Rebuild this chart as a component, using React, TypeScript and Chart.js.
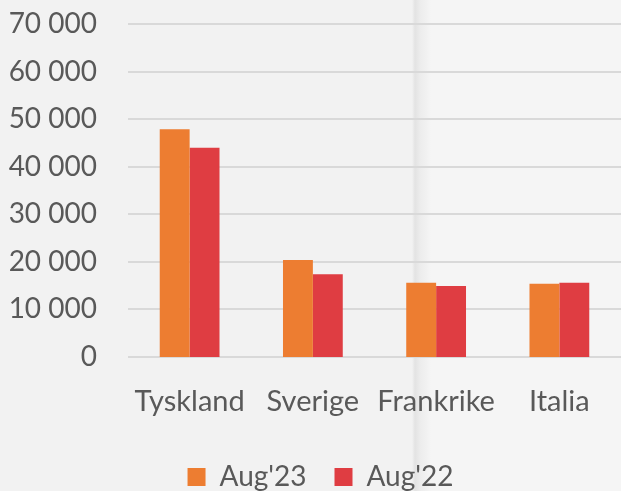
import React, { useEffect, useRef } from "react";
import { Chart, registerables } from "chart.js";

Chart.register(...registerables);

const categories = ["Tyskland", "Sverige", "Frankrike", "Italia"];
const seriesNames = ["Aug'23", "Aug'22"];
const aug23 = [47900, 20400, 15600, 15400];
const aug22 = [44000, 17400, 14900, 15600];
const yTicks = [0, 10000, 20000, 30000, 40000, 50000, 60000, 70000];

const formatTick = (v: number) =>
  String(v).replace(/\B(?=(\d{3})+(?!\d))/g, " ");

const gridPlugin = {
  id: "customGrid",
  afterLayout(chart: any) {
    if (chart.legend) {
      chart.legend.left = 20;
    }
  },
  beforeDatasetsDraw(chart: any) {
    const { ctx, chartArea, scales } = chart;
    const y = scales.y;
    ctx.save();
    ctx.strokeStyle = "#d9d9d9";
    ctx.lineWidth = 2;
    yTicks.forEach((t) => {
      const py = Math.round(y.getPixelForValue(t));
      ctx.beginPath();
      ctx.moveTo(chartArea.left, py);
      ctx.lineTo(chart.width, py);
      ctx.stroke();
    });
    ctx.restore();
  },
};

export default function App() {
  const ref = useRef<HTMLCanvasElement | null>(null);

  useEffect(() => {
    document.body.style.margin = "0";
    const font = { family: "Lato", size: 29 };
    const chart = new Chart(ref.current!, {
      type: "bar",
      data: {
        labels: categories,
        datasets: [
          {
            label: seriesNames[0],
            data: aug23,
            backgroundColor: "#ED7D31",
            categoryPercentage: 0.485,
            barPercentage: 1,
          },
          {
            label: seriesNames[1],
            data: aug22,
            backgroundColor: "#DF3D42",
            categoryPercentage: 0.485,
            barPercentage: 1,
          },
        ],
      },
      options: {
        responsive: false,
        animation: false,
        layout: { padding: { left: 0, top: 24, right: 0, bottom: 0 } },
        plugins: {
          legend: {
            position: "bottom",
            labels: {
              boxWidth: 18,
              boxHeight: 18,
              padding: 28,
              color: "#595959",
              font: { family: "Lato", size: 28 },
            },
          },
          tooltip: { enabled: false },
        },
        scales: {
          x: {
            grid: { display: false, drawTicks: false },
            border: { display: false },
            ticks: {
              color: "#595959",
              font,
              padding: 27,
              autoSkip: false,
              maxRotation: 0,
              minRotation: 0,
            },
            afterFit(scale: any) {
              scale.height = 78;
            },
          },
          y: {
            min: 0,
            max: 70000,
            grid: { display: false, drawTicks: false },
            border: { display: false },
            ticks: {
              stepSize: 10000,
              color: "#595959",
              font: { family: "Lato", size: 28 },
              padding: 31,
              callback: (v: any) => formatTick(Number(v)),
            },
            afterFit(scale: any) {
              scale.width = 128;
              scale.paddingTop = 0;
              scale.paddingBottom = 0;
            },
          },
        },
      },
      plugins: [gridPlugin],
    });
    return () => chart.destroy();
  }, []);

  return (
    <div
      style={{
        width: 621,
        height: 491,
        overflow: "hidden",
        background:
          "linear-gradient(to right, #f2f2f2 0px, #f2f2f2 412px, #e3e3e3 415px, #ececec 420px, #f5f5f5 431px, #f5f5f5 621px)",
      }}
    >
      <canvas ref={ref} width={621} height={501} style={{ display: "block" }} />
    </div>
  );
}
